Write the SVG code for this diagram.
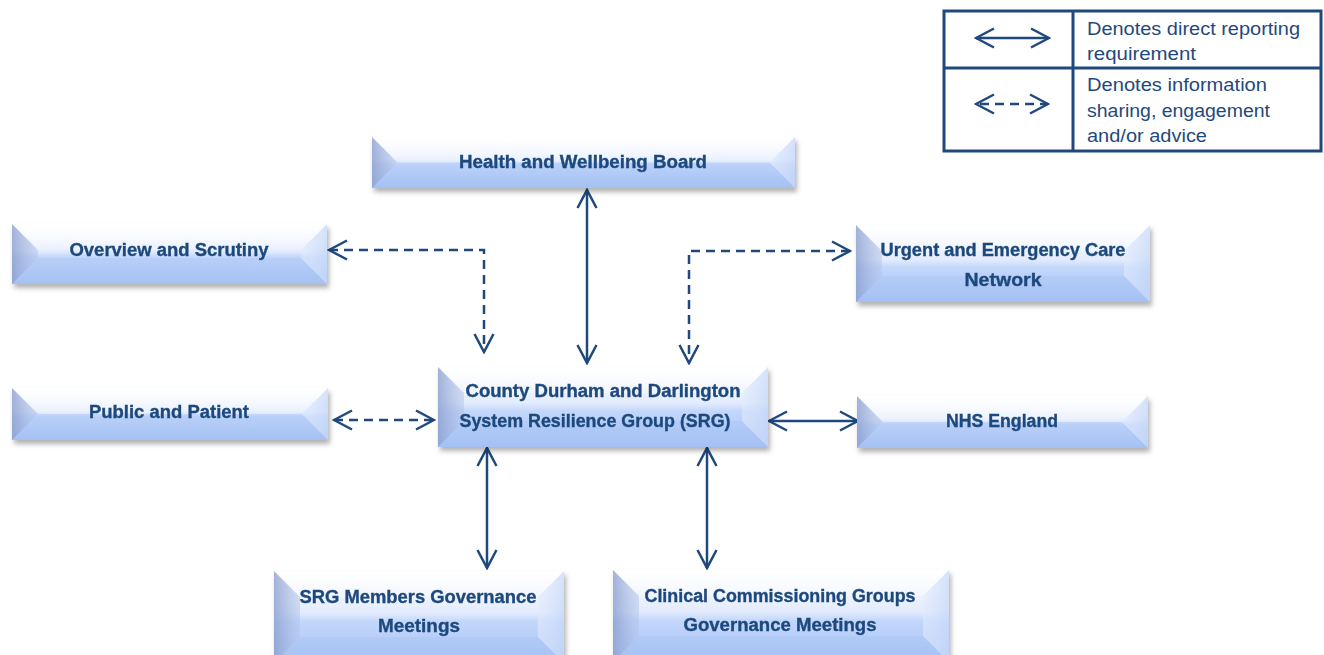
<svg xmlns="http://www.w3.org/2000/svg" width="1324" height="655" viewBox="0 0 1324 655">
  <style>
    .label { font-family: "Liberation Sans", Arial, sans-serif; font-weight: bold; font-size: 18px; fill: #1f497d; stroke: #1f497d; stroke-width: 0.35; text-anchor: middle; }
    .legend-text { font-family: "Liberation Sans", Arial, sans-serif; font-size: 17.5px; fill: #1f497d; }
    .body { fill: url(#bodyGrad); }
    .face-top { fill: url(#topGrad); }
    .face-left { fill: url(#leftGrad); }
    .face-right { fill: url(#rightGrad); }
    .face-bottom { fill: #9dbaf1; opacity: 0.25; }
    .solid { fill: none; stroke: #1f497d; stroke-width: 2.5; marker-start: url(#chev); marker-end: url(#chev); }
    .dashed { fill: none; stroke: #1f497d; stroke-width: 2.5; stroke-dasharray: 9 6; marker-start: url(#chev); marker-end: url(#chev); }
    .legend-frame { fill: #ffffff; stroke: #1f497d; stroke-width: 3; }
    .legend-rule { stroke: #1f497d; stroke-width: 3; }
  </style>
  <defs>
    <linearGradient id="bodyGrad" x1="0" y1="0" x2="0" y2="1">
      <stop offset="0" stop-color="#ffffff"/>
      <stop offset="0.45" stop-color="#e3ecfd"/>
      <stop offset="0.55" stop-color="#c3d7fb"/>
      <stop offset="1" stop-color="#a8c3f5"/>
    </linearGradient>
    <linearGradient id="topGrad" x1="0" y1="0" x2="0" y2="1">
      <stop offset="0" stop-color="#ffffff" stop-opacity="0.7"/>
      <stop offset="1" stop-color="#ffffff" stop-opacity="0.2"/>
    </linearGradient>
    <linearGradient id="leftGrad" x1="0" y1="0" x2="1" y2="0">
      <stop offset="0" stop-color="#8c9fcf" stop-opacity="0.8"/>
      <stop offset="1" stop-color="#b3c5ea" stop-opacity="0.5"/>
    </linearGradient>
    <linearGradient id="rightGrad" x1="0" y1="0" x2="1" y2="0">
      <stop offset="0" stop-color="#e2ebfd" stop-opacity="0.55"/>
      <stop offset="1" stop-color="#c7d8f8" stop-opacity="0.75"/>
    </linearGradient>
    <filter id="shadow" x="-5%" y="-20%" width="115%" height="150%">
      <feDropShadow dx="2" dy="4" stdDeviation="2.4" flood-color="#000000" flood-opacity="0.3"/>
    </filter>
    <marker id="chev" viewBox="-20 -11 22 22" refX="0" refY="0" markerWidth="22" markerHeight="22" markerUnits="userSpaceOnUse" orient="auto-start-reverse">
      <path d="M-18,-9.5 L0,0 L-18,9.5" fill="none" stroke="#1f497d" stroke-width="2.5" stroke-dasharray="none" stroke-linejoin="miter"/>
    </marker>
  </defs>

  <rect width="1324" height="655" fill="#ffffff"/>

  <!-- Legend -->
  <g id="legend">
    <rect class="legend-frame" x="944" y="11" width="377" height="140"/>
    <line class="legend-rule" x1="1073" y1="11" x2="1073" y2="151"/>
    <line class="legend-rule" x1="944" y1="68" x2="1321" y2="68"/>
    <path class="solid" d="M976,38 L1049,38" stroke-width="2.2"/>
    <path class="dashed" d="M976,104 L1048,104" stroke-width="2.2" stroke-dasharray="8 8" stroke-dashoffset="-4"/>
    <text class="legend-text" x="1087" y="35" textLength="213" lengthAdjust="spacingAndGlyphs">Denotes direct reporting</text>
    <text class="legend-text" x="1087" y="60" textLength="109" lengthAdjust="spacingAndGlyphs">requirement</text>
    <text class="legend-text" x="1087" y="91" textLength="180" lengthAdjust="spacingAndGlyphs">Denotes information</text>
    <text class="legend-text" x="1087" y="117" textLength="183" lengthAdjust="spacingAndGlyphs">sharing, engagement</text>
    <text class="legend-text" x="1087" y="142" textLength="120" lengthAdjust="spacingAndGlyphs">and/or advice</text>
  </g>

  <!-- Connectors -->
  <g id="connectors">
    <path class="solid" d="M587,190 L587,363"/>
    <path class="dashed" d="M329,250 L484,250 L484,352"/>
    <path class="dashed" d="M850,251 L689,251 L689,363"/>
    <path class="dashed" d="M334,420 L434,420"/>
    <path class="solid" d="M769,421 L858,421"/>
    <path class="solid" d="M487,448 L487,568"/>
    <path class="solid" d="M707,448 L707,568"/>
  </g>

  <!-- Health and Wellbeing Board: x372 y137 w423 h51 -->
  <g id="health-wellbeing" filter="url(#shadow)">
    <rect class="body" x="372" y="137" width="423" height="51"/>
    <polygon class="face-top" points="372,137 795,137 769.5,162.5 397.5,162.5"/>
    <polygon class="face-bottom" points="372,188 795,188 769.5,162.5 397.5,162.5"/>
    <polygon class="face-left" points="372,137 397.5,162.5 372,188"/>
    <polygon class="face-right" points="795,137 769.5,162.5 795,188"/>
    <text class="label" x="583" y="168" textLength="248" lengthAdjust="spacingAndGlyphs">Health and Wellbeing Board</text>
  </g>

  <!-- Overview and Scrutiny: x12 y224 w315 h60 -->
  <g id="overview-scrutiny" filter="url(#shadow)">
    <rect class="body" x="12" y="224" width="315" height="60"/>
    <polygon class="face-top" points="12,224 327,224 301,250 38,250"/>
    <polygon class="face-bottom" points="12,284 327,284 301,258 38,258"/>
    <polygon class="face-left" points="12,224 38,250 38,258 12,284"/>
    <polygon class="face-right" points="327,224 301,250 301,258 327,284"/>
    <text class="label" x="169" y="256" textLength="199" lengthAdjust="spacingAndGlyphs">Overview and Scrutiny</text>
  </g>

  <!-- Urgent and Emergency Care Network: x856 y225 w294 h77 -->
  <g id="urgent-emergency" filter="url(#shadow)">
    <rect class="body" x="856" y="225" width="294" height="77"/>
    <polygon class="face-top" points="856,225 1150,225 1124,251 882,251"/>
    <polygon class="face-bottom" points="856,302 1150,302 1124,276 882,276"/>
    <polygon class="face-left" points="856,225 882,251 882,276 856,302"/>
    <polygon class="face-right" points="1150,225 1124,251 1124,276 1150,302"/>
    <text class="label" x="1003" y="256" textLength="245" lengthAdjust="spacingAndGlyphs">Urgent and Emergency Care</text>
    <text class="label" x="1003" y="286" textLength="77" lengthAdjust="spacingAndGlyphs">Network</text>
  </g>

  <!-- Public and Patient: x12 y388 w316 h52 -->
  <g id="public-patient" filter="url(#shadow)">
    <rect class="body" x="12" y="388" width="316" height="52"/>
    <polygon class="face-top" points="12,388 328,388 302,414 38,414"/>
    <polygon class="face-bottom" points="12,440 328,440 302,414 38,414"/>
    <polygon class="face-left" points="12,388 38,414 12,440"/>
    <polygon class="face-right" points="328,388 302,414 328,440"/>
    <text class="label" x="169" y="418" textLength="160" lengthAdjust="spacingAndGlyphs">Public and Patient</text>
  </g>

  <!-- System Resilience Group: x438 y367 w330 h80 -->
  <g id="srg" filter="url(#shadow)">
    <rect class="body" x="438" y="367" width="330" height="80"/>
    <polygon class="face-top" points="438,367 768,367 742,393 464,393"/>
    <polygon class="face-bottom" points="438,447 768,447 742,421 464,421"/>
    <polygon class="face-left" points="438,367 464,393 464,421 438,447"/>
    <polygon class="face-right" points="768,367 742,393 742,421 768,447"/>
    <text class="label" x="603" y="397" textLength="275" lengthAdjust="spacingAndGlyphs">County Durham and Darlington</text>
    <text class="label" x="595" y="427" textLength="271" lengthAdjust="spacingAndGlyphs">System Resilience Group (SRG)</text>
  </g>

  <!-- NHS England: x857 y396 w291 h52 -->
  <g id="nhs-england" filter="url(#shadow)">
    <rect class="body" x="857" y="396" width="291" height="52"/>
    <polygon class="face-top" points="857,396 1148,396 1122,422 883,422"/>
    <polygon class="face-bottom" points="857,448 1148,448 1122,422 883,422"/>
    <polygon class="face-left" points="857,396 883,422 857,448"/>
    <polygon class="face-right" points="1148,396 1122,422 1148,448"/>
    <text class="label" x="1002" y="427" textLength="112" lengthAdjust="spacingAndGlyphs">NHS England</text>
  </g>

  <!-- SRG Members Governance Meetings: x274 y571 w290 h92 (runs off the bottom) -->
  <g id="srg-members" filter="url(#shadow)">
    <rect class="body" x="274" y="571" width="290" height="92"/>
    <polygon class="face-top" points="274,571 564,571 538,597 300,597"/>
    <polygon class="face-bottom" points="274,663 564,663 538,637 300,637"/>
    <polygon class="face-left" points="274,571 300,597 300,637 274,663"/>
    <polygon class="face-right" points="564,571 538,597 538,637 564,663"/>
    <text class="label" x="418" y="603" textLength="237" lengthAdjust="spacingAndGlyphs">SRG Members Governance</text>
    <text class="label" x="419" y="632" textLength="82" lengthAdjust="spacingAndGlyphs">Meetings</text>
  </g>

  <!-- Clinical Commissioning Groups Governance Meetings: x613 y570 w336 h92 (runs off the bottom) -->
  <g id="ccg-governance" filter="url(#shadow)">
    <rect class="body" x="613" y="570" width="336" height="92"/>
    <polygon class="face-top" points="613,570 949,570 923,596 639,596"/>
    <polygon class="face-bottom" points="613,662 949,662 923,636 639,636"/>
    <polygon class="face-left" points="613,570 639,596 639,636 613,662"/>
    <polygon class="face-right" points="949,570 923,596 923,636 949,662"/>
    <text class="label" x="780" y="602" textLength="271" lengthAdjust="spacingAndGlyphs">Clinical Commissioning Groups</text>
    <text class="label" x="780" y="631" textLength="193" lengthAdjust="spacingAndGlyphs">Governance Meetings</text>
  </g>
</svg>
